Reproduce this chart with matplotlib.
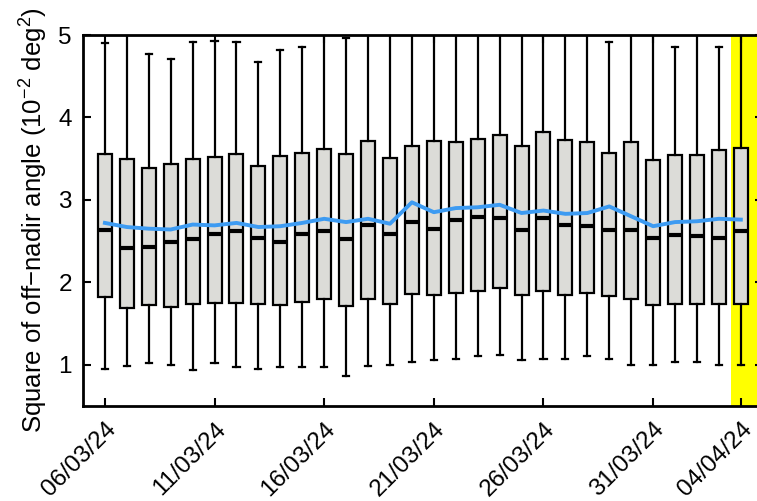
import numpy as np
import matplotlib
matplotlib.use("Agg")
import matplotlib.pyplot as plt

plt.rcParams["font.family"] = ["Liberation Sans", "DejaVu Sans"]
plt.rcParams["mathtext.fontset"] = "custom"
plt.rcParams["mathtext.rm"] = "Liberation Sans"

# --- daily distributions (10^-2 deg^2) ---
dates = ["06/03/24", "07/03/24", "08/03/24", "09/03/24", "10/03/24", "11/03/24",
         "12/03/24", "13/03/24", "14/03/24", "15/03/24", "16/03/24", "17/03/24",
         "18/03/24", "19/03/24", "20/03/24", "21/03/24", "22/03/24", "23/03/24",
         "24/03/24", "25/03/24", "26/03/24", "27/03/24", "28/03/24", "29/03/24",
         "30/03/24", "31/03/24", "01/04/24", "02/04/24", "03/04/24", "04/04/24"]
whis_lo = [0.95, 0.98, 1.02, 0.99, 0.94, 1.02, 0.97, 0.95, 0.97, 0.97,
           0.97, 0.86, 0.98, 0.99, 1.03, 1.05, 1.07, 1.10, 1.12, 1.06,
           1.07, 1.07, 1.10, 1.07, 0.99, 1.00, 1.03, 1.03, 0.99, 0.99]
q1 = [1.82, 1.69, 1.72, 1.70, 1.73, 1.75, 1.75, 1.74, 1.72, 1.76,
      1.80, 1.71, 1.80, 1.74, 1.86, 1.84, 1.87, 1.89, 1.93, 1.84,
      1.89, 1.84, 1.87, 1.83, 1.80, 1.72, 1.73, 1.74, 1.73, 1.73]
medians = [2.63, 2.42, 2.43, 2.49, 2.53, 2.59, 2.62, 2.54, 2.49, 2.59,
           2.62, 2.53, 2.69, 2.58, 2.73, 2.65, 2.76, 2.79, 2.78, 2.64,
           2.78, 2.70, 2.68, 2.63, 2.64, 2.54, 2.57, 2.56, 2.54, 2.62]
q3 = [3.56, 3.50, 3.39, 3.43, 3.49, 3.52, 3.56, 3.41, 3.53, 3.57,
      3.62, 3.56, 3.71, 3.51, 3.65, 3.71, 3.70, 3.74, 3.79, 3.65,
      3.82, 3.73, 3.70, 3.57, 3.70, 3.48, 3.55, 3.54, 3.61, 3.63]
whis_hi = [4.90, 5.30, 4.77, 4.71, 4.92, 4.93, 4.92, 4.67, 4.82, 4.85,
           5.30, 4.96, 5.30, 5.30, 5.30, 5.30, 5.30, 5.30, 5.30, 5.30,
           5.30, 5.30, 5.30, 4.92, 5.30, 5.30, 4.85, 5.30, 4.86, 5.30]
means = [2.72, 2.67, 2.65, 2.64, 2.70, 2.69, 2.72, 2.67, 2.68, 2.72,
         2.77, 2.73, 2.77, 2.71, 2.97, 2.85, 2.90, 2.91, 2.94, 2.84,
         2.87, 2.83, 2.84, 2.92, 2.80, 2.68, 2.73, 2.74, 2.77, 2.76]

tick_every = 5
highlight = len(dates) - 1

stats = [dict(whislo=lo, q1=a, med=m, q3=b, whishi=hi, fliers=[])
         for lo, a, m, b, hi in zip(whis_lo, q1, medians, q3, whis_hi)]
x = np.arange(len(dates))

fig = plt.figure(figsize=(7.57, 5.01), dpi=100)
ax = fig.add_axes([0.1096, 0.190, 0.898, 0.740])

ax.axvspan(highlight - 0.45, highlight + 1.0, color="#FFFF00", zorder=0, lw=0)

ax.bxp(stats, positions=x, widths=0.64, patch_artist=True, showfliers=False,
       boxprops=dict(facecolor="#DCDCD8", edgecolor="black", linewidth=1.6),
       medianprops=dict(color="black", linewidth=3.0),
       whiskerprops=dict(color="black", linewidth=1.6),
       capprops=dict(color="black", linewidth=1.6),
       capwidths=0.28, manage_ticks=False, zorder=2)

ax.plot(x, means, color="#3D9BF2", linewidth=2.8, zorder=3)

ax.set_xlim(-1, 30)
ax.set_ylim(0.5, 5)
ax.set_yticks([1, 2, 3, 4, 5])
ticks = x[::tick_every].tolist()
if highlight not in ticks:
    ticks.append(highlight)
ax.set_xticks(ticks)
ax.set_xticklabels([dates[i] for i in ticks], rotation=45, ha="right",
                   va="top", rotation_mode="anchor")
ax.tick_params(direction="in", length=6, width=1.5, labelsize=17.5,
               top=True, right=True)
ax.tick_params(axis="x", pad=9)
ax.tick_params(axis="y", pad=8)
for s in ax.spines.values():
    s.set_linewidth(2)

ax.set_ylabel("Square of off\u2212nadir angle (10$^{-2}$ deg$^{2}$)", fontsize=18.5,
              labelpad=7)

fig.savefig("out.png", dpi=100)
